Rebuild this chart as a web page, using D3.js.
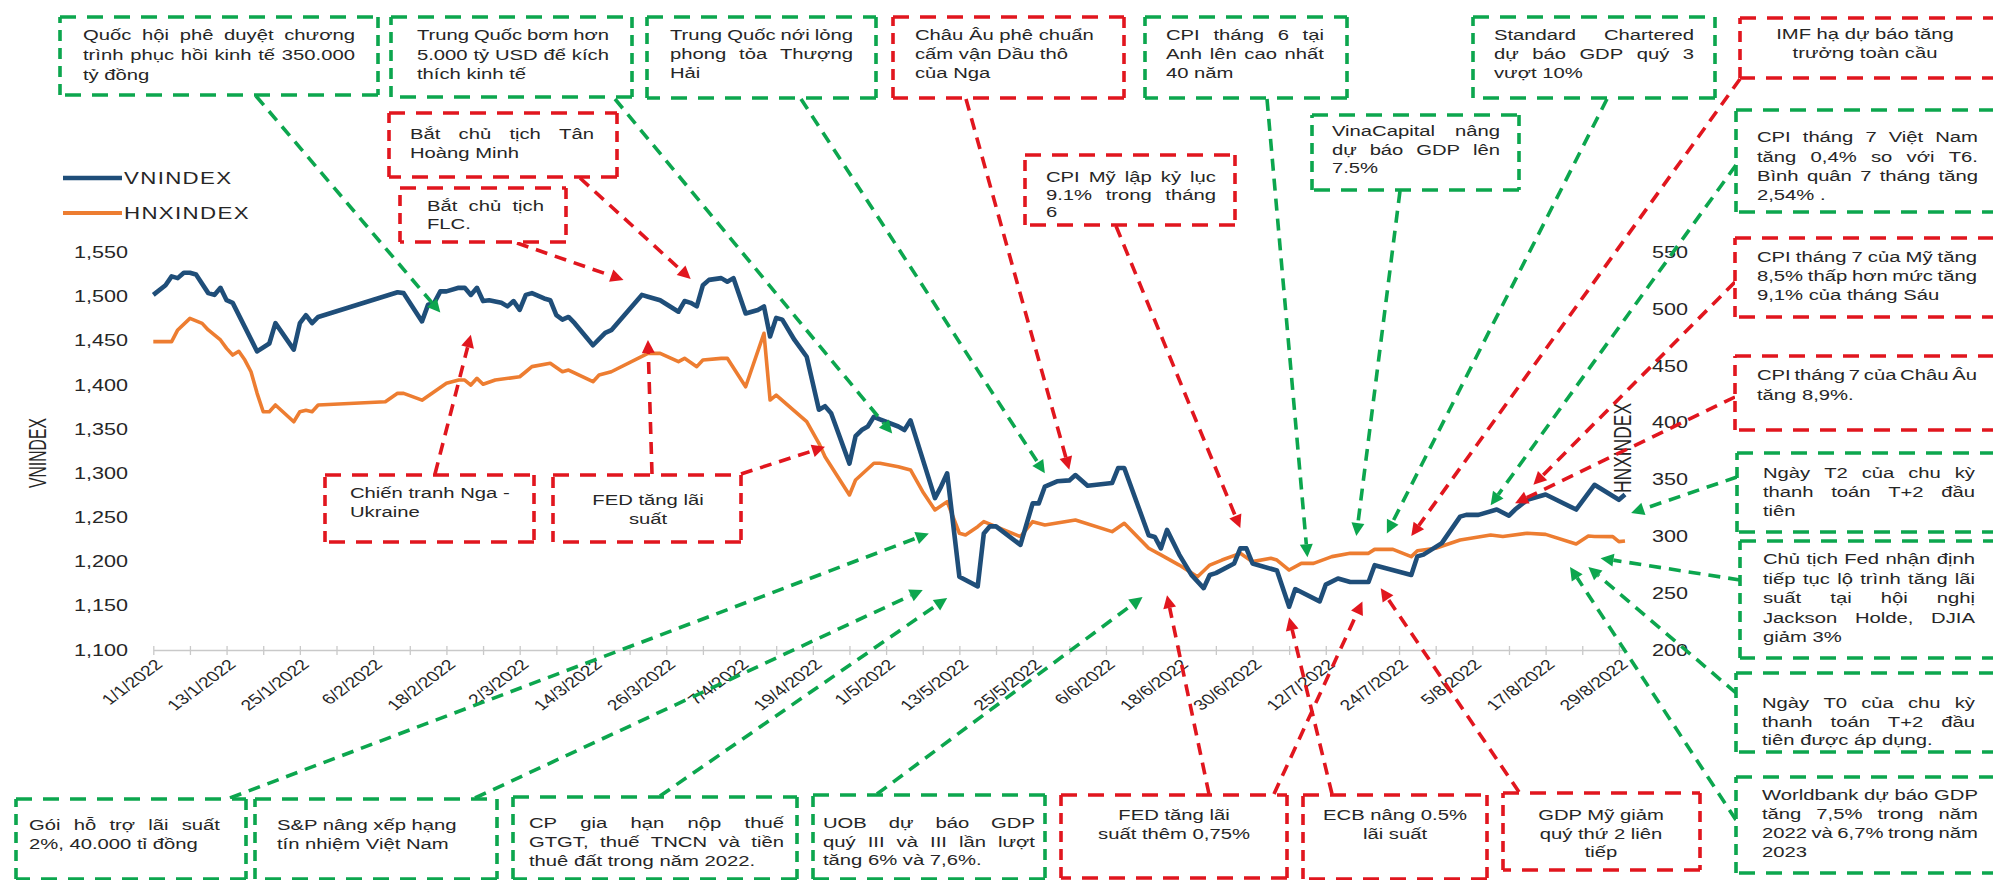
<!DOCTYPE html>
<html>
<head>
<meta charset="utf-8">
<script src="https://cdn.jsdelivr.net/npm/d3@7"></script>
<style>
  html, body { margin: 0; padding: 0; background: #fff; }
  svg { display: block; }
  text { font-family: "Liberation Sans", Arial, sans-serif; fill: #262626; }
</style>
</head>
<body>
<svg id="chart" width="1993" height="880"></svg>
<script>
// ---------------- series: daily closes, 2022 ----------------
const vnDates = ["2022-01-01","2022-01-03","2022-01-04","2022-01-05","2022-01-06","2022-01-07","2022-01-08","2022-01-10","2022-01-11","2022-01-12","2022-01-13","2022-01-14","2022-01-18","2022-01-20","2022-01-21","2022-01-24","2022-01-25","2022-01-26","2022-01-27","2022-01-28",
  "2022-02-10","2022-02-11","2022-02-14","2022-02-15","2022-02-16","2022-02-17","2022-02-18","2022-02-20","2022-02-21","2022-02-22","2022-02-23","2022-02-24","2022-02-25","2022-02-27","2022-02-28",
  "2022-03-01","2022-03-02","2022-03-03","2022-03-04","2022-03-06","2022-03-07","2022-03-08","2022-03-09","2022-03-10","2022-03-11","2022-03-14","2022-03-16","2022-03-17","2022-03-22","2022-03-23","2022-03-25","2022-03-28","2022-03-29","2022-03-30","2022-03-31",
  "2022-04-01","2022-04-02","2022-04-04","2022-04-05","2022-04-06","2022-04-08","2022-04-10","2022-04-11","2022-04-12","2022-04-13","2022-04-14","2022-04-16","2022-04-18","2022-04-20","2022-04-21","2022-04-22","2022-04-25","2022-04-26","2022-04-27","2022-04-28","2022-04-29","2022-04-30",
  "2022-05-03","2022-05-04","2022-05-05","2022-05-09","2022-05-10","2022-05-11","2022-05-13","2022-05-16","2022-05-17","2022-05-18","2022-05-19","2022-05-23","2022-05-25","2022-05-26","2022-05-27","2022-05-29","2022-05-31",
  "2022-06-01","2022-06-03","2022-06-07","2022-06-08","2022-06-09","2022-06-13","2022-06-14","2022-06-15","2022-06-16","2022-06-18","2022-06-20","2022-06-22","2022-06-23","2022-06-24","2022-06-27","2022-06-28","2022-06-29","2022-06-30",
  "2022-07-04","2022-07-06","2022-07-07","2022-07-11","2022-07-12","2022-07-14","2022-07-16","2022-07-19","2022-07-20","2022-07-26","2022-07-27","2022-07-28","2022-07-31",
  "2022-08-03","2022-08-04","2022-08-06","2022-08-09","2022-08-11","2022-08-12","2022-08-14","2022-08-17","2022-08-22","2022-08-25","2022-08-29","2022-08-30"];
const vnValues = [1502,1513,1523,1521,1527,1527,1525,1504,1502,1510,1496,1493,1438,1447,1470,1440,1470,1479,1470,1477,
  1505,1504,1472,1491,1493,1506,1506,1510,1510,1502,1510,1495,1496,1493,1489,
  1495,1485,1502,1504,1498,1496,1479,1474,1477,1470,1445,1459,1462,1502,1500,1496,1483,1495,1493,1489,
  1513,1519,1521,1517,1521,1481,1485,1489,1455,1476,1474,1451,1432,1372,1376,1368,1311,1342,1349,1353,1364,1361,
  1353,1349,1360,1272,1285,1300,1183,1172,1232,1240,1240,1219,1266,1266,1285,1291,1292,
  1298,1286,1289,1306,1306,1230,1228,1215,1236,1208,1185,1170,1185,1187,1198,1215,1215,1198,
  1190,1149,1169,1155,1174,1181,1177,1177,1196,1185,1206,1208,1221,
  1251,1253,1253,1259,1252,1259,1270,1276,1259,1287,1270,1276];

const hnxDates = ["2022-01-01","2022-01-04","2022-01-05","2022-01-07","2022-01-09","2022-01-10","2022-01-12","2022-01-13","2022-01-14","2022-01-15","2022-01-16","2022-01-17","2022-01-18","2022-01-19","2022-01-20","2022-01-21","2022-01-24","2022-01-25","2022-01-26","2022-01-27","2022-01-28",
  "2022-02-08","2022-02-10","2022-02-11","2022-02-14","2022-02-16","2022-02-18","2022-02-20","2022-02-21","2022-02-22","2022-02-23","2022-02-24","2022-02-26",
  "2022-03-02","2022-03-03","2022-03-04","2022-03-07","2022-03-09","2022-03-10","2022-03-14","2022-03-15","2022-03-17","2022-03-23","2022-03-25","2022-03-28","2022-03-29","2022-03-31",
  "2022-04-01","2022-04-04","2022-04-05","2022-04-08","2022-04-11","2022-04-12","2022-04-13","2022-04-18","2022-04-20","2022-04-21","2022-04-25","2022-04-26","2022-04-29","2022-04-30",
  "2022-05-03","2022-05-05","2022-05-07","2022-05-09","2022-05-11","2022-05-13","2022-05-14","2022-05-16","2022-05-17","2022-05-19","2022-05-23","2022-05-25","2022-05-27",
  "2022-06-01","2022-06-07","2022-06-09","2022-06-13","2022-06-15","2022-06-18","2022-06-21","2022-06-23","2022-06-25","2022-06-28","2022-06-30",
  "2022-07-03","2022-07-04","2022-07-06","2022-07-08","2022-07-10","2022-07-13","2022-07-16","2022-07-19","2022-07-20","2022-07-23","2022-07-26","2022-07-27","2022-07-30",
  "2022-08-03","2022-08-08","2022-08-10","2022-08-14","2022-08-17","2022-08-22","2022-08-24","2022-08-25","2022-08-28","2022-08-29","2022-08-30"];
const hnxValues = [471.5,471.5,481.8,492,487.6,481.8,473,465.6,459.7,463,455.3,445,426,409.8,409.8,415.7,401,409.8,411,409.8,415.7,
  418.6,426,426,420,427.4,434.8,437.7,437.7,433.3,439.2,434,437.7,
  440.6,445,449.5,452.4,445,446.5,436.2,442.1,445,461.2,461.2,453.9,456.8,449.5,
  455.3,456.8,456.8,431.8,478.9,420.1,424.5,401,382,370.2,336.5,349.7,364.4,364.4,
  361.4,358.5,339.4,323.3,330.6,302.8,301.3,308.6,313,308.6,299.8,313,310,
  314.5,304.2,311.6,289.6,283.7,274.8,264.5,274.8,279.2,285.1,277.8,
  280.7,279.2,270.4,276.3,276.3,282.2,285.1,285.1,288.6,288.6,282.2,287.4,289.6,
  296.9,301.3,300,302.8,301.8,293.3,300.4,300,299.8,295.4,296];

const seriesNames = ["VNINDEX", "HNXINDEX"];
const vnTicks = [1100,1150,1200,1250,1300,1350,1400,1450,1500,1550];
const hnxTicks = [200,250,300,350,400,450,500,550];
const axisStart = "2022-01-01", axisEnd = "2022-08-30";

// ---------------- news callouts ----------------
const calloutText = [
  ["Quốc hội phê duyệt chương","trình phục hồi kinh tế 350.000","tỷ đồng"],
  ["Trung Quốc bơm hơn","5.000 tỷ USD để kích","thích kinh tế"],
  ["Trung Quốc nới lỏng","phong tỏa Thượng","Hải"],
  ["Châu Âu phê chuẩn","cấm vận Dầu thô","của Nga"],
  ["CPI tháng 6 tại","Anh lên cao nhất","40 năm"],
  ["Standard Chartered","dự báo GDP quý 3","vượt 10%"],
  ["IMF hạ dự báo tăng","trưởng toàn cầu"],
  ["Bắt chủ tịch Tân","Hoàng Minh"],
  ["Bắt chủ tịch","FLC."],
  ["CPI Mỹ lập kỷ lục","9.1% trong tháng","6"],
  ["VinaCapital nâng","dự báo GDP lên","7.5%"],
  ["CPI tháng 7 Việt Nam","tăng 0,4% so với T6.","Bình quân 7 tháng tăng","2,54% ."],
  ["CPI tháng 7 của Mỹ tăng","8,5% thấp hơn mức tăng","9,1% của tháng Sáu"],
  ["CPI tháng 7 của Châu Âu","tăng 8,9%."],
  ["Ngày T2 của chu kỳ","thanh toán T+2 đầu","tiên"],
  ["Chủ tịch Fed nhận định","tiếp tục lộ trình tăng lãi","suất tại hội nghị","Jackson Holde, DJIA","giảm 3%"],
  ["Ngày T0 của chu kỳ","thanh toán T+2 đầu","tiên được áp dụng."],
  ["Worldbank dự báo GDP","tăng 7,5% trong năm","2022 và 6,7% trong năm","2023"],
  ["Gói hỗ trợ lãi suất","2%, 40.000 tỉ đồng"],
  ["S&P nâng xếp hạng","tín nhiệm Việt Nam"],
  ["CP gia hạn nộp thuế","GTGT, thuế TNCN và tiền","thuê đất trong năm 2022."],
  ["UOB dự báo GDP","quý III và III lần lượt","tăng 6% và 7,6%."],
  ["FED tăng lãi","suất thêm 0,75%"],
  ["ECB nâng 0.5%","lãi suất"],
  ["GDP Mỹ giảm","quý thứ 2 liên","tiếp"],
  ["Chiến tranh Nga -","Ukraine"],
  ["FED tăng lãi","suất"]
];
// g = supportive news, r = adverse news
const calloutTone = ["g","g","g","r","g","g","r","r","r","r","g","g","r","r","g","g","g","g","g","g","g","g","r","r","r","r","r"];

// dates and index levels each arrow points at
const eventCallout = [0,1,2,3,4,9,10,5,6,11,12,13,14,15,16,17,18,19,20,21,22,23,22,24,8,7,25,26,26];
const eventDates = ["2022-02-17","2022-05-02","2022-05-27","2022-05-31","2022-07-09","2022-06-28","2022-07-17","2022-07-22","2022-07-26","2022-08-08","2022-08-15","2022-08-12","2022-08-31","2022-08-26","2022-08-24","2022-08-21",
  "2022-05-08","2022-05-07","2022-05-11","2022-06-12","2022-06-16","2022-07-06","2022-07-18","2022-07-21","2022-03-19","2022-03-30","2022-02-22","2022-03-23","2022-04-21"];
const eventLevels = [1482,1345,1300,1304,1205,1238,1229,1232,1229,1264,1287,1266,1255,1204,1194,1194,
  1232,1168,1159,1160,1162,1137,1155,1170,1519,1520,1457,1451,1330];

// ---------------- layout ----------------
const S = 1.35;            // horizontal stretch applied to all lettering
const NOTE_FONT = 15;
const COLORS = { g: "#0CA64E", r: "#E1161E", vn: "#1F4E79", hnx: "#ED7D31" };

// box [x0,y0,x1,y1], text alignment (j justify / l left / c centre), text span, line centres
const calloutLayout = [
  { box:[60,17,378,95],    al:"j", tx:[83,355],    ty:[35,55,75] },
  { box:[391,17,632,97],   al:"j", tx:[417,609],   ty:[35,55,74] },
  { box:[647,17,876,98],   al:"j", tx:[670,853],   ty:[35,54,73] },
  { box:[893,17,1124,98],  al:"l", tx:[915,1100],  ty:[35,54,73] },
  { box:[1145,17,1347,98], al:"j", tx:[1166,1324], ty:[35,54,73] },
  { box:[1473,17,1715,98], al:"j", tx:[1494,1694], ty:[35,54,73] },
  { box:[1740,18,1998,78], al:"c", cx:1865,        ty:[34,53] },
  { box:[389,113,617,177], al:"j", tx:[410,594],   ty:[134,153] },
  { box:[400,188,566,242], al:"j", tx:[427,544],   ty:[206,224] },
  { box:[1025,155,1235,225], al:"j", tx:[1046,1216], ty:[177,195,212] },
  { box:[1312,115,1519,190], al:"j", tx:[1332,1500], ty:[131,150,168] },
  { box:[1736,110,1998,212], al:"j", tx:[1757,1978], ty:[137,157,176,195] },
  { box:[1735,238,1998,317], al:"j", tx:[1757,1977], ty:[257,276,295] },
  { box:[1735,356,1998,430], al:"j", tx:[1757,1977], ty:[375,395] },
  { box:[1737,453,1998,532], al:"j", tx:[1763,1975], ty:[473,492,511] },
  { box:[1740,541,1998,658], al:"j", tx:[1763,1975], ty:[559,579,598,618,637] },
  { box:[1736,673,1998,752], al:"j", tx:[1762,1975], ty:[703,722,740] },
  { box:[1736,777,1998,873], al:"j", tx:[1762,1978], ty:[795,814,833,852] },
  { box:[16,799,246,879],  al:"j", tx:[29,220],    ty:[825,844] },
  { box:[255,799,497,879], al:"l", tx:[277,480],   ty:[825,844] },
  { box:[513,797,797,879], al:"j", tx:[529,784],   ty:[823,842,861] },
  { box:[813,795,1045,879], al:"j", tx:[823,1035], ty:[823,842,860] },
  { box:[1061,795,1287,878], al:"c", cx:1174,      ty:[815,834] },
  { box:[1303,795,1487,879], al:"c", cx:1395,      ty:[815,834] },
  { box:[1503,793,1700,870], al:"c", cx:1601,      ty:[815,834,852] },
  { box:[325,475,534,542], al:"l", tx:[350,520],   ty:[493,512] },
  { box:[553,475,741,542], al:"c", cx:648,         ty:[500,519] }
];
// arrow tails (pixel position on the callout edge), same order as eventDates
const arrowTails = [[256,96],[615,99],[801,99],[966,99],[1267,99],[1116,226],[1400,191],[1607,99],[1740,79],[1736,165],[1735,282],[1735,397],[1737,477],[1740,580],[1736,693],[1736,820],
  [230,798],[475,798],[660,796],[877,794],[1209,794],[1332,794],[1274,794],[1519,792],[517,243],[580,178],[435,474],[652,474],[741,474]];

// ---------------- scales ----------------
const parse = d3.timeParse("%Y-%m-%d");
const svg = d3.select("#chart");
const x = d3.scaleTime().domain([parse(axisStart), parse(axisEnd)]).range([153.3, 1625]);
const yL = d3.scaleLinear().domain([1100, 1550]).range([650, 252.5]);
const yR = d3.scaleLinear().domain([200, 550]).range([650, 252.5]);

// ---------------- axes ----------------
const tickDates = d3.range(0, 241, 6).map(k => d3.timeDay.offset(parse(axisStart), k));
const fmt = d3.timeFormat("%-d/%-m/%Y");
const gx = svg.append("g").attr("transform", "translate(0,650)")
  .call(d3.axisBottom(x).tickValues(tickDates).tickSizeInner(5).tickSizeOuter(0)
    .tickFormat((d, i) => i % 2 === 0 ? fmt(d) : ""));
gx.attr("font-family", null).attr("font-size", 14.5);
gx.select(".domain").attr("stroke", "#c9c9c9").attr("stroke-width", 1.5);
gx.selectAll(".tick line").attr("stroke", "#c9c9c9").attr("stroke-width", 1.3).attr("y1", -4).attr("y2", 5);
gx.selectAll(".tick text").attr("fill", "#333").attr("y", 0).attr("dy", "0.35em")
  .attr("text-anchor", "end").attr("transform", `translate(5,12) scale(${S},1) rotate(-45)`);

const gl = svg.append("g").attr("transform", "translate(137,0)")
  .call(d3.axisLeft(yL).tickValues(vnTicks).tickFormat(d3.format(",")).tickSize(0));
gl.attr("font-family", null).attr("font-size", 16);
gl.select(".domain").remove();
gl.selectAll(".tick text").attr("fill", "#333").attr("x", 0)
  .attr("transform", `translate(-9,0) scale(${S},1)`);

const gr = svg.append("g").attr("transform", "translate(1643,0)")
  .call(d3.axisRight(yR).tickValues(hnxTicks).tickSize(0));
gr.attr("font-family", null).attr("font-size", 16);
gr.select(".domain").remove();
gr.selectAll(".tick text").attr("fill", "#333").attr("x", 0)
  .attr("transform", `translate(9,0) scale(${S},1)`);

// axis titles
function axisTitle(label, cx, cy, len) {
  svg.append("g").attr("transform", `translate(${cx},${cy}) scale(${S},1) rotate(-90)`)
    .append("text").attr("text-anchor", "middle").attr("y", 6.5)
    .attr("font-size", 18).attr("textLength", len).attr("lengthAdjust", "spacingAndGlyphs")
    .attr("fill", "#111").text(label);
}
axisTitle(seriesNames[0], 37, 453, 70);

// ---------------- series ----------------
const vnData = vnDates.map((d, i) => ({ date: parse(d), v: vnValues[i] }));
const hnxData = hnxDates.map((d, i) => ({ date: parse(d), v: hnxValues[i] }));
svg.append("path").datum(hnxData)
  .attr("d", d3.line().x(d => x(d.date)).y(d => yR(d.v)))
  .attr("fill", "none").attr("stroke", COLORS.hnx).attr("stroke-width", 3.6)
  .attr("stroke-linejoin", "round");
svg.append("path").datum(vnData)
  .attr("d", d3.line().x(d => x(d.date)).y(d => yL(d.v)))
  .attr("fill", "none").attr("stroke", COLORS.vn).attr("stroke-width", 4.6)
  .attr("stroke-linejoin", "round");

axisTitle(seriesNames[1], 1622, 448, 90);

// ---------------- legend ----------------
[[seriesNames[0], COLORS.vn, 178, 4.6], [seriesNames[1], COLORS.hnx, 213, 3.8]].forEach(([name, c, yy, w]) => {
  svg.append("line").attr("x1", 63).attr("x2", 122).attr("y1", yy).attr("y2", yy)
    .attr("stroke", c).attr("stroke-width", w);
  svg.append("text").attr("transform", `translate(124,${yy}) scale(${S},1)`)
    .attr("y", 6).attr("font-size", 16.5).attr("letter-spacing", 1).attr("fill", "#333").text(name);
});

// ---------------- callout arrows ----------------
const arrowLayer = svg.append("g");
eventDates.forEach((d, i) => {
  const color = COLORS[calloutTone[eventCallout[i]]];
  const [x1, y1] = arrowTails[i];
  const x2 = x(parse(d)), y2 = yL(eventLevels[i]);
  const L = Math.hypot(x2 - x1, y2 - y1), ux = (x2 - x1) / L, uy = (y2 - y1) / L;
  const head = 13, hw = 6.5;
  const bx = x2 - ux * head, by = y2 - uy * head;
  arrowLayer.append("line").attr("x1", x1).attr("y1", y1).attr("x2", bx).attr("y2", by)
    .attr("stroke", color).attr("stroke-width", 3.6).attr("stroke-dasharray", "12,8");
  arrowLayer.append("path")
    .attr("d", `M${x2},${y2}L${bx - uy * hw},${by + ux * hw}L${bx + uy * hw},${by - ux * hw}Z`)
    .attr("fill", color);
});

// ---------------- callout boxes ----------------
const meas = svg.append("text").attr("font-size", NOTE_FONT).attr("visibility", "hidden");
const wordWidth = w => { meas.text(w); return meas.node().getComputedTextLength(); };

function dashedBox(g, [x0, y0, x1, y1], color) {
  g.append("rect").attr("x", x0).attr("y", y0).attr("width", x1 - x0).attr("height", y1 - y0).attr("fill", "#fff");
  [[x0, y0, x1, y0, "16,11"], [x1, y0, x1, y1, "11,7"], [x1, y1, x0, y1, "16,11"], [x0, y1, x0, y0, "11,7"]]
    .forEach(([a, b, c, e, dash]) => {
      g.append("line").attr("x1", a).attr("y1", b).attr("x2", c).attr("y2", e)
        .attr("stroke", color).attr("stroke-width", 3.6).attr("stroke-dasharray", dash);
    });
}

const boxLayer = svg.append("g").attr("font-size", NOTE_FONT);
calloutText.forEach((lines, i) => {
  const lay = calloutLayout[i];
  const g = boxLayer.append("g");
  dashedBox(g, lay.box, COLORS[calloutTone[i]]);
  lines.forEach((line, k) => {
    const yc = lay.ty[k];
    if (lay.al === "c") {
      g.append("text").attr("transform", `translate(${lay.cx},${yc}) scale(${S},1)`)
        .attr("text-anchor", "middle").attr("y", 5.3).text(line);
      return;
    }
    const t = g.append("text").attr("transform", `translate(${lay.tx[0]},${yc}) scale(${S},1)`).attr("y", 5.3);
    const words = line.split(" ");
    const justify = lay.al === "j" && k < lines.length - 1 && words.length > 1;
    if (!justify) { t.text(line); return; }
    const widths = words.map(wordWidth);
    const span = (lay.tx[1] - lay.tx[0]) / S;
    const gap = (span - d3.sum(widths)) / (words.length - 1);
    let cx = 0;
    words.forEach((w, j) => { t.append("tspan").attr("x", cx).text(w); cx += widths[j] + gap; });
  });
});
meas.remove();
</script>
</body>
</html>
